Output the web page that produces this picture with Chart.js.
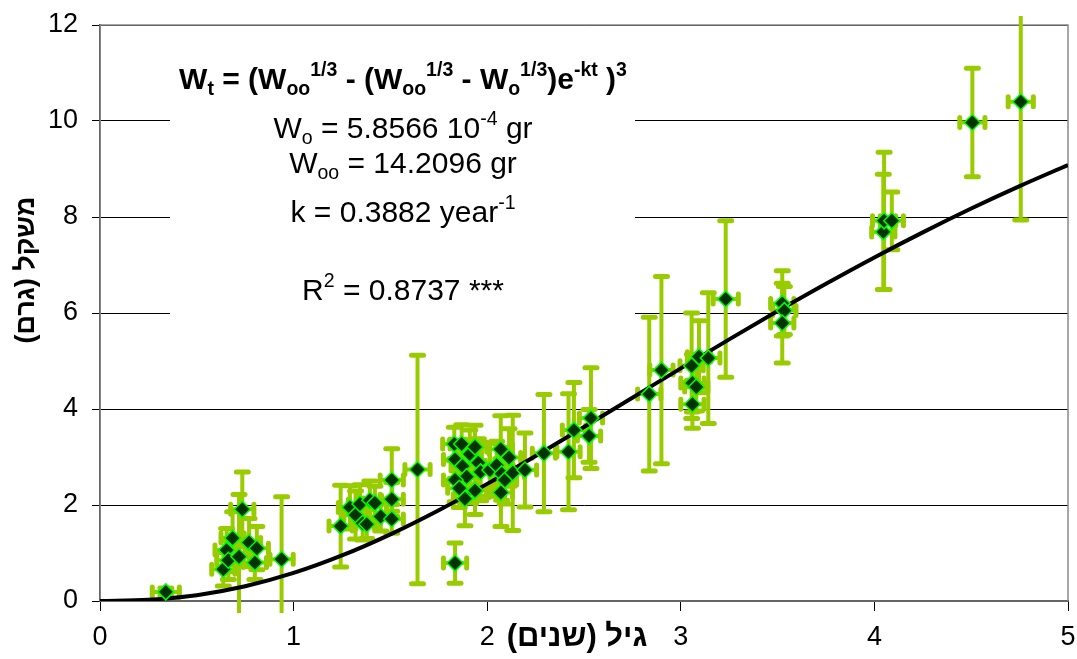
<!DOCTYPE html>
<html>
<head>
<meta charset="utf-8">
<script src="https://cdn.jsdelivr.net/npm/chart.js@4.4.1/dist/chart.umd.min.js"></script>
<style>
html, body { margin: 0; padding: 0; background: #fff; }
#wrap { width: 1077px; height: 659px; }
</style>
</head>
<body>
<div id="wrap"><canvas id="chart"></canvas></div>
<script>
// measured fish: age (years), mean weight (gr), +/- error
var ageYears  = [0.34, 0.637, 0.654, 0.663, 0.685, 0.718, 0.735, 0.77, 0.80, 0.81, 0.938,
                 1.243, 1.291, 1.32, 1.343, 1.357, 1.378, 1.394, 1.42, 1.45, 1.507, 1.507, 1.507, 1.64,
                 1.83, 1.868, 1.834, 1.873, 1.91, 1.937, 1.894, 1.834, 1.856, 1.885, 1.937, 1.954, 1.966, 2.014,
                 2.07, 2.113, 2.049, 2.075, 2.092, 2.071, 2.132, 2.195, 2.293, 2.42, 2.448, 2.526, 2.536, 1.834,
                 2.837, 2.90, 3.056, 3.094, 3.142, 3.06, 3.08, 3.06, 3.232,
                 3.524, 3.535, 3.524, 4.046, 4.05, 4.09, 4.506, 4.756];
var weightGr  = [0.19, 0.66, 1.06, 0.85, 1.31, 0.92, 1.91, 1.22, 0.80, 1.10, 0.87,
                 1.56, 1.95, 1.79, 2.02, 1.62, 1.60, 2.10, 2.04, 1.76, 1.71, 2.12, 2.52, 2.74,
                 3.27, 3.27, 2.95, 2.81, 3.06, 3.21, 2.59, 2.52, 2.35, 2.13, 2.30, 2.88, 2.69, 2.73,
                 3.16, 2.99, 2.83, 2.65, 2.52, 2.26, 2.67, 2.73, 3.08, 3.11, 3.56, 3.44, 3.81, 0.79,
                 4.31, 4.81, 4.90, 5.09, 5.06, 4.54, 4.46, 4.10, 6.29,
                 6.20, 6.05, 5.79, 7.69, 7.92, 7.92, 9.97, 10.40];
var weightErr = [0.08, 0.35, 0.45, 0.40, 0.55, 1.30, 0.78, 0.50, 0.35, 0.45, 1.30,
                 0.85, 0.45, 0.50, 0.40, 0.35, 0.30, 0.40, 0.35, 0.30, 0.30, 0.35, 0.65, 2.38,
                 0.35, 0.40, 0.40, 0.50, 0.50, 0.45, 0.55, 0.45, 0.40, 0.56, 0.50, 0.50, 0.60, 0.55,
                 0.70, 0.60, 0.50, 0.55, 0.50, 0.71, 1.20, 0.77, 1.22, 1.21, 0.99, 0.55, 1.05, 0.42,
                 1.60, 1.95, 1.10, 0.75, 1.36, 0.60, 0.50, 0.50, 1.63,
                 0.68, 0.50, 0.83, 1.20, 1.43, 0.60, 1.13, 2.46];
var ageErr    = [0.07, 0.06, 0.06, 0.06, 0.06, 0.06, 0.06, 0.06, 0.06, 0.06, 0.06,
                 0.06, 0.06, 0.06, 0.06, 0.06, 0.06, 0.06, 0.06, 0.06, 0.06, 0.06, 0.06, 0.065,
                 0.06, 0.06, 0.06, 0.06, 0.06, 0.06, 0.06, 0.06, 0.06, 0.06, 0.06, 0.06, 0.06, 0.06,
                 0.06, 0.06, 0.06, 0.06, 0.06, 0.06, 0.06, 0.06, 0.06, 0.06, 0.06, 0.06, 0.06, 0.06,
                 0.06, 0.06, 0.06, 0.06, 0.06, 0.06, 0.06, 0.06, 0.065,
                 0.06, 0.06, 0.06, 0.06, 0.06, 0.06, 0.065, 0.065];

// von Bertalanffy fit curve
var fitAge    = [0, 0.25, 0.5, 0.75, 1, 1.25, 1.5, 1.75, 2, 2.25, 2.5, 2.75, 3, 3.25, 3.5, 3.75, 4, 4.25, 4.5, 4.75, 5];
var fitWeight = [0.0006, 0.027, 0.122, 0.307, 0.584, 0.949, 1.389, 1.891, 2.440, 3.022, 3.625,
                 4.236, 4.847, 5.451, 6.040, 6.610, 7.158, 7.680, 8.176, 8.643, 9.083];

var xTickValues = [0, 1, 2, 3, 4, 5];
var yTickValues = [0, 2, 4, 6, 8, 10, 12];

var FONT = '"Liberation Sans", Arial, "DejaVu Sans", sans-serif';
Chart.defaults.font.family = FONT;
Chart.defaults.color = '#000';

var points = ageYears.map(function(a, i) { return {x: a, y: weightGr[i]}; });
var curve = fitAge.map(function(a, i) { return {x: a, y: fitWeight[i]}; });

function seg(ctx, x1, y1, x2, y2) {
	ctx.beginPath();
	ctx.moveTo(x1, y1);
	ctx.lineTo(x2, y2);
	ctx.stroke();
}

// white text box, plot border, then the error bars under the markers
var errorBars = {
	id: 'errorBars',
	beforeDatasetsDraw: function(chart) {
		var ctx = chart.ctx, xs = chart.scales.x, ys = chart.scales.y, a = chart.chartArea;
		ctx.save();
		ctx.fillStyle = '#fff';
		ctx.fillRect(170, 45, 465, 285);
		ctx.strokeStyle = '#888';
		ctx.lineWidth = 1.5;
		ctx.strokeRect(a.left, a.top, a.right - a.left, a.bottom - a.top);

		ctx.beginPath();
		ctx.rect(a.left - 20, 16, a.right - a.left + 40, a.bottom + 12 - 16);
		ctx.clip();
		ctx.strokeStyle = '#99cc00';
		ctx.lineCap = 'round';
		for (var i = 0; i < ageYears.length; i++) {
			var px = xs.getPixelForValue(ageYears[i]);
			var py = ys.getPixelForValue(weightGr[i]);
			var top = ys.getPixelForValue(weightGr[i] + weightErr[i]);
			var bot = ys.getPixelForValue(weightGr[i] - weightErr[i]);
			var l = xs.getPixelForValue(ageYears[i] - ageErr[i]);
			var r = xs.getPixelForValue(ageYears[i] + ageErr[i]);
			ctx.lineWidth = 4;
			seg(ctx, px, top, px, bot);
			seg(ctx, l, py, r, py);
			ctx.lineWidth = 5;
			seg(ctx, px - 6, top, px + 6, top);
			seg(ctx, px - 6, bot, px + 6, bot);
			seg(ctx, l, py - 5, l, py + 5);
			seg(ctx, r, py - 5, r, py + 5);
		}
		ctx.restore();
	}
};

// parts: [text, 0 normal | -1 subscript | 1 superscript]
function drawRich(ctx, parts, cx, y, size, weight) {
	var w = 0;
	parts.forEach(function(p) {
		ctx.font = weight + ' ' + (p[1] ? size * 0.65 : size) + 'px ' + FONT;
		w += ctx.measureText(p[0]).width;
	});
	var x = cx - w / 2;
	parts.forEach(function(p) {
		ctx.font = weight + ' ' + (p[1] ? size * 0.65 : size) + 'px ' + FONT;
		var dy = p[1] === 1 ? -size * 0.42 : (p[1] === -1 ? size * 0.2 : 0);
		ctx.fillText(p[0], x, y + dy);
		x += ctx.measureText(p[0]).width;
	});
}

var labels = {
	id: 'labels',
	afterDatasetsDraw: function(chart) {
		var ctx = chart.ctx;
		ctx.save();
		ctx.fillStyle = '#000';
		ctx.textAlign = 'left';
		ctx.textBaseline = 'alphabetic';
		drawRich(ctx, [['W', 0], ['t', -1], [' = (W', 0], ['oo', -1], ['1/3', 1], [' - (W', 0], ['oo', -1], ['1/3', 1],
			[' - W', 0], ['o', -1], ['1/3', 1], [')e', 0], ['-kt', 1], [' )', 0], ['3', 1]], 403, 89, 30, 'bold');
		drawRich(ctx, [['W', 0], ['o', -1], [' = 5.8566 10', 0], ['-4', 1], [' gr', 0]], 403, 138, 30, 'normal');
		drawRich(ctx, [['W', 0], ['oo', -1], [' = 14.2096 gr', 0]], 403, 173, 30, 'normal');
		drawRich(ctx, [['k = 0.3882 year', 0], ['-1', 1]], 403, 222, 30, 'normal');
		drawRich(ctx, [['R', 0], ['2', 1], [' = 0.8737 ***', 0]], 403, 300, 30, 'normal');

		// axis titles
		ctx.direction = 'rtl';
		ctx.textAlign = 'center';
		ctx.textBaseline = 'middle';
		ctx.font = 'bold 31px ' + FONT;
		ctx.fillText('גיל (שנים)', 577, 637);
		ctx.font = 'bold 27px ' + FONT;
		ctx.translate(27, 270);
		ctx.rotate(-Math.PI / 2);
		ctx.fillText('משקל (גרם)', 0, 0);
		ctx.restore();
	}
};

new Chart(document.getElementById('chart'), {
	type: 'scatter',
	data: {
		datasets: [{
			data: points,
			pointStyle: 'rectRot',
			pointRadius: 8,
			pointHoverRadius: 8,
			backgroundColor: '#003300',
			borderColor: '#00ff00',
			borderWidth: 1.5
		}, {
			type: 'line',
			data: curve,
			borderColor: '#000',
			borderWidth: 4,
			pointRadius: 0,
			fill: false,
			cubicInterpolationMode: 'monotone'
		}]
	},
	options: {
		responsive: true,
		maintainAspectRatio: false,
		animation: false,
		layout: { autoPadding: false, padding: { top: 25, right: 9, left: 0, bottom: 0 } },
		plugins: { legend: { display: false }, tooltip: { enabled: false } },
		scales: {
			x: {
				type: 'linear', min: 0, max: 5,
				afterBuildTicks: function(s) { s.ticks = xTickValues.map(function(v) { return {value: v}; }); },
				afterFit: function(s) { s.height = 58; s.paddingLeft = 0; s.paddingRight = 0; },
				grid: { drawOnChartArea: false, color: '#000', tickLength: 10 },
				border: { color: '#000', width: 2 },
				ticks: { font: { size: 27 }, color: '#000', padding: 10, maxRotation: 0 }
			},
			y: {
				min: 0, max: 12,
				afterBuildTicks: function(s) { s.ticks = yTickValues.map(function(v) { return {value: v}; }); },
				afterFit: function(s) { s.width = 100; s.paddingTop = 0; s.paddingBottom = 0; },
				grid: { color: '#000', lineWidth: 1, tickLength: 8 },
				border: { color: '#000', width: 1.5 },
				ticks: { font: { size: 27 }, color: '#000', padding: 14 }
			}
		}
	},
	plugins: [errorBars, labels]
});
</script>
</body>
</html>
